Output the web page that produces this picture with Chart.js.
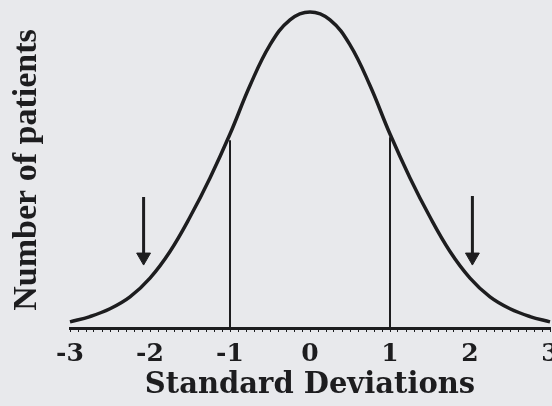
<!DOCTYPE html>
<html>
<head>
<meta charset="utf-8">
<script src="https://cdn.jsdelivr.net/npm/chart.js@4"></script>
<style>
  html, body { margin: 0; padding: 0; background: #e8e9ec; }
  #c { display: block; }
</style>
</head>
<body>
<canvas id="c" width="552" height="406"></canvas>
<script>
// Normal curve (height as % of the peak)
const sdValues = [-3, -2.75, -2.5, -2.25, -2, -1.75, -1.5, -1.25, -1, -0.75, -0.5, -0.25, 0, 0.25, 0.5, 0.75, 1, 1.25, 1.5, 1.75, 2, 2.25, 2.5, 2.75, 3];
const patientCounts = [1.0, 2.7, 5.2, 9.0, 15.0, 23.5, 34.5, 47.0, 61.0, 76.5, 89.5, 97.5, 100, 97.5, 89.5, 76.5, 61.0, 47.0, 34.5, 23.5, 15.0, 9.0, 5.2, 2.7, 1.0];
// Vertical divider lines
const dividerX = [-1, 1];
const dividerTop = [59, 60];
// Arrows
const arrowX = [-2.08, 2.03];
const arrowTop = [40.9, 41.2];
const arrowHead = [21.7, 21.7];
// Axis text
const tickLabels = [-3, -2, -1, 0, 1, 2, 3];
const xTitle = 'Standard Deviations';
const yTitle = 'Number of patients';

const ink = '#1d1d1f';

const datasets = [];
datasets.push({
  data: sdValues.map((x, i) => ({ x, y: patientCounts[i] })),
  borderColor: ink,
  borderWidth: 3.5,
  pointRadius: 0,
  tension: 0.4,
  clip: false,
  fill: false
});
dividerX.forEach((x, i) => {
  datasets.push({
    data: [{ x, y: -1 }, { x, y: dividerTop[i] }],
    borderColor: ink,
    borderWidth: 2,
    pointRadius: 0,
    fill: false
  });
});
arrowX.forEach((x, i) => {
  datasets.push({
    data: [{ x, y: arrowTop[i] }, { x, y: arrowHead[i] }],
    borderColor: ink,
    borderWidth: 3,
    pointRadius: [0, 8],
    pointStyle: 'triangle',
    rotation: 180,
    pointBackgroundColor: ink,
    pointBorderColor: ink,
    pointBorderWidth: 1,
    fill: false
  });
});

new Chart(document.getElementById('c'), {
  type: 'line',
  data: { datasets },
  options: {
    responsive: false,
    animation: false,
    events: [],
    layout: { autoPadding: false, padding: { left: 0, right: 2, top: 12, bottom: 0 } },
    plugins: { legend: { display: false }, tooltip: { enabled: false } },
    scales: {
      x: {
        type: 'linear',
        min: tickLabels[0],
        max: tickLabels[tickLabels.length - 1],
        border: { display: true, color: ink, width: 3 },
        grid: { drawOnChartArea: false, drawTicks: true, tickLength: 4, color: ink, lineWidth: 1 },
        ticks: {
          stepSize: 0.1,
          autoSkip: false,
          maxRotation: 0,
          minRotation: 0,
          padding: 7,
          color: ink,
          font: { family: '"DejaVu Serif"', weight: 'bold', size: 25 },
          callback: (v) => {
            const r = Math.round(v);
            return (Math.abs(v - r) < 1e-6 && tickLabels.includes(r)) ? String(r) : '';
          }
        },
        title: {
          display: true,
          text: xTitle,
          color: ink,
          font: { family: '"DejaVu Serif"', weight: 'bold', size: 29 },
          padding: { top: 0, bottom: 3 }
        },
        afterFit: (s) => { s.height = 78; s.paddingLeft = 0; s.paddingRight = 0; }
      },
      y: {
        type: 'linear',
        min: -0.96,
        max: 100,
        border: { display: false },
        grid: { display: false },
        ticks: { display: false },
        title: {
          display: true,
          text: yTitle,
          color: ink,
          font: { family: '"Liberation Serif"', weight: 'bold', size: 34 },
          padding: { top: 7, bottom: 0 }
        },
        afterFit: (s) => { s.width = 70; }
      }
    }
  }
});
</script>
</body>
</html>
